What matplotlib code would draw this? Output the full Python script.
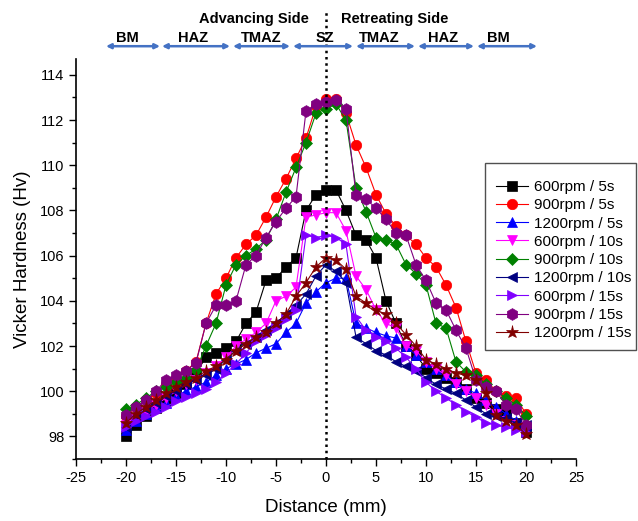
import numpy as np
import matplotlib
matplotlib.use("Agg")
import matplotlib.pyplot as plt
from matplotlib.patches import Rectangle
from matplotlib.ticker import MultipleLocator

plt.rcParams['font.family'] = ['Liberation Sans', 'DejaVu Sans']
plt.rcParams['axes.unicode_minus'] = False

# distance from weld centre (mm)
distance = [-20, -19, -18, -17, -16, -15, -14, -13, -12, -11, -10, -9, -8, -7, -6, -5, -4, -3, -2, -1,
            0, 1, 2, 3, 4, 5, 6, 7, 8, 9, 10, 11, 12, 13, 14, 15, 16, 17, 18, 19, 20]

hv_600_5s = [98.0, 98.5, 98.9, 99.25, 99.6, 99.9, 100.3, 100.8, 101.5, 101.7, 101.9, 102.2, 103.0, 103.5,
             104.9, 105.0, 105.5, 105.9, 108.0, 108.7, 108.9, 108.9, 108.0, 106.9, 106.7, 105.9, 104.0,
             103.0, 102.0, 101.6, 101.0, 100.8, 100.6, 100.4, 100.1, 99.7, 99.5, 99.2, 99.0, 98.6, 98.2]
hv_900_5s = [98.9, 99.3, 99.6, 99.9, 100.3, 100.6, 100.9, 101.3, 103.0, 104.3, 105.0, 105.9, 106.5, 106.9,
             107.7, 108.6, 109.4, 110.3, 111.2, 112.6, 112.95, 112.95, 112.3, 110.9, 109.9, 108.7, 107.85,
             107.3, 106.9, 106.5, 105.9, 105.5, 104.7, 103.7, 102.2, 100.8, 100.5, 100.0, 99.8, 99.7, 99.0]
hv_1200_5s = [98.3, 98.7, 99.0, 99.3, 99.5, 99.8, 100.0, 100.2, 100.4, 100.7, 101.0, 101.2, 101.4, 101.7,
              101.9, 102.1, 102.6, 103.0, 103.9, 104.4, 104.8, 105.0, 105.0, 103.0, 102.8, 102.6, 102.45,
              102.35, 102.0, 101.6, 101.3, 101.0, 100.7, 100.4, 100.1, 99.9, 99.6, 99.3, 99.0, 98.7, 98.5]
hv_600_10s = [98.5, 98.8, 99.1, 99.4, 99.7, 100.0, 100.3, 100.5, 100.8, 101.1, 101.5, 102.0, 102.3, 102.6,
              103.0, 104.0, 104.2, 104.6, 107.7, 107.8, 107.9, 107.9, 107.1, 105.1, 104.5, 103.6, 103.0,
              102.8, 102.0, 101.8, 101.3, 101.0, 100.7, 100.3, 100.0, 99.7, 99.4, 99.0, 98.7, 98.5, 98.4]
hv_900_10s = [99.2, 99.4, 99.7, 100.0, 100.2, 100.4, 100.6, 100.95, 102.0, 103.0, 104.7, 105.6, 106.0, 106.3,
              106.7, 107.6, 108.8, 109.9, 111.0, 112.3, 112.5, 112.7, 112.0, 109.0, 107.95, 106.8, 106.7,
              106.5, 105.6, 105.2, 104.7, 103.0, 102.8, 101.3, 100.85, 100.7, 100.3, 100.0, 99.7, 99.4, 98.9]
hv_1200_10s = [98.4, 98.9, 99.2, 99.5, 99.8, 100.0, 100.3, 100.5, 100.7, 101.0, 101.4, 101.8, 102.1, 102.4,
               102.7, 103.0, 103.4, 103.8, 104.3, 105.1, 105.6, 105.3, 104.8, 102.4, 102.1, 101.8, 101.6,
               101.3, 101.1, 100.9, 100.6, 100.3, 100.1, 99.9, 99.6, 99.3, 99.0, 98.9, 98.8, 98.6, 98.5]
hv_600_15s = [98.4, 98.7, 98.9, 99.1, 99.3, 99.55, 99.75, 99.9, 100.1, 100.4, 100.8, 101.2, 101.7, 102.2,
              102.5, 102.8, 103.2, 103.6, 106.9, 106.8, 106.9, 106.8, 106.5, 103.3, 102.7, 102.4, 102.2,
              101.9, 101.5, 101.0, 100.4, 100.0, 99.7, 99.4, 99.1, 98.85, 98.6, 98.5, 98.4, 98.3, 98.2]
hv_900_15s = [98.95, 99.3, 99.6, 100.0, 100.5, 100.7, 100.9, 101.25, 103.0, 103.8, 103.8, 104.0, 105.6, 106.0,
              106.8, 107.5, 108.1, 108.6, 112.4, 112.7, 112.8, 112.9, 112.5, 108.7, 108.5, 108.1, 107.6,
              107.0, 106.9, 105.6, 104.9, 103.9, 103.6, 102.7, 101.9, 100.5, 100.2, 100.0, 99.4, 99.2, 98.5]
hv_1200_15s = [98.6, 99.0, 99.3, 99.6, 99.9, 100.2, 100.4, 100.6, 100.9, 101.1, 101.4, 101.8, 102.1, 102.4,
               102.6, 103.0, 103.4, 104.2, 104.8, 105.5, 105.9, 105.8, 105.4, 104.2, 103.9, 103.6, 103.4,
               103.0, 102.5, 102.0, 101.4, 101.2, 101.0, 100.8, 100.7, 100.5, 99.9, 98.95, 98.7, 98.5, 98.1]

labels = ["600rpm / 5s", "900rpm / 5s", "1200rpm / 5s", "600rpm / 10s", "900rpm / 10s",
          "1200rpm / 10s", "600rpm / 15s", "900rpm / 15s", "1200rpm / 15s"]
series = [hv_600_5s, hv_900_5s, hv_1200_5s, hv_600_10s, hv_900_10s,
          hv_1200_10s, hv_600_15s, hv_900_15s, hv_1200_15s]
colors = ["#000000", "#FF0000", "#0000FF", "#FF00FF", "#008000",
          "#000080", "#8000FF", "#800080", "#800000"]
markers = ["s", "o", "^", "v", "D", "<", ">", "h", "*"]
msizes = [7, 7.5, 7.5, 7.5, 6, 7.5, 7.5, 8.5, 9.5]

zones = ["BM", "HAZ", "TMAZ", "SZ", "TMAZ", "HAZ", "BM"]
zone_text_x = [-19.9, -13.3, -6.5, -0.1, 5.3, 11.7, 17.2]
zone_arrows = [(-22.0, -16.6), (-16.4, -9.6), (-9.3, -3.6), (-3.3, 2.7), (3.0, 8.9), (9.2, 14.8), (15.1, 21.1)]

fig = plt.figure(figsize=(6.38, 5.21), dpi=100)
ax = fig.add_axes([76 / 638, 62 / 521, 500 / 638, 400 / 521])

for y, lab, c, m, ms in zip(series, labels, colors, markers, msizes):
    ax.plot(distance, y, color=c, lw=0.8, marker=m, ms=ms, mec=c, mfc=c, mew=0.5, label=lab)

ax.set_xlim(-25, 25)
ax.set_ylim(97.0, 114.7)
ax.xaxis.set_major_locator(MultipleLocator(5))
ax.xaxis.set_minor_locator(MultipleLocator(2.5))
ax.yaxis.set_major_locator(MultipleLocator(2))
ax.yaxis.set_minor_locator(MultipleLocator(1))
ax.tick_params(which='major', direction='out', length=5, width=1, labelsize=10.5)
ax.tick_params(which='minor', direction='out', length=3, width=1)
for s in ['top', 'right']:
    ax.spines[s].set_visible(False)
for s in ['left', 'bottom']:
    ax.spines[s].set_linewidth(1.2)

ax.set_xlabel("Distance (mm)", fontsize=13.5, labelpad=10)
ax.set_ylabel("Vicker Hardness (Hv)", fontsize=13.5, labelpad=6)

# centre line
trans = ax.get_xaxis_transform()
ax.plot([0, 0], [0, 1.12], transform=trans, clip_on=False, color='black', ls=(0, (1, 1.5)), lw=1.8)

# zone annotations above the plot
ax.text(-7.2, 1.10, "Advancing Side", transform=trans, ha='center', va='center',
        fontsize=10.5, fontweight='bold')
ax.text(6.9, 1.10, "Retreating Side", transform=trans, ha='center', va='center',
        fontsize=10.5, fontweight='bold')
for name, tx in zip(zones, zone_text_x):
    ax.text(tx, 1.052, name, transform=trans, ha='center', va='center', fontsize=10.5, fontweight='bold')
for x0, x1 in zone_arrows:
    ax.annotate("", xy=(x0, 1.032), xytext=(x1, 1.032), xycoords=trans, textcoords=trans,
                arrowprops=dict(arrowstyle='<|-|>', color='#4472C4', lw=1.8,
                                mutation_scale=7, shrinkA=0, shrinkB=0))

# legend with separate frame
fig.patches.append(Rectangle((485 / 638, 1 - 350 / 521), 151 / 638, 187 / 521,
                             transform=fig.transFigure, fill=False, ec='#505050', lw=1))
leg = fig.legend(loc='upper left', bbox_to_anchor=(496 / 638, 1 - 180 / 521), frameon=False,
                 fontsize=11, handlelength=2.1, handletextpad=0.4, labelspacing=0.28,
                 borderpad=0, borderaxespad=0)

fig.savefig("out.png", dpi=100)
